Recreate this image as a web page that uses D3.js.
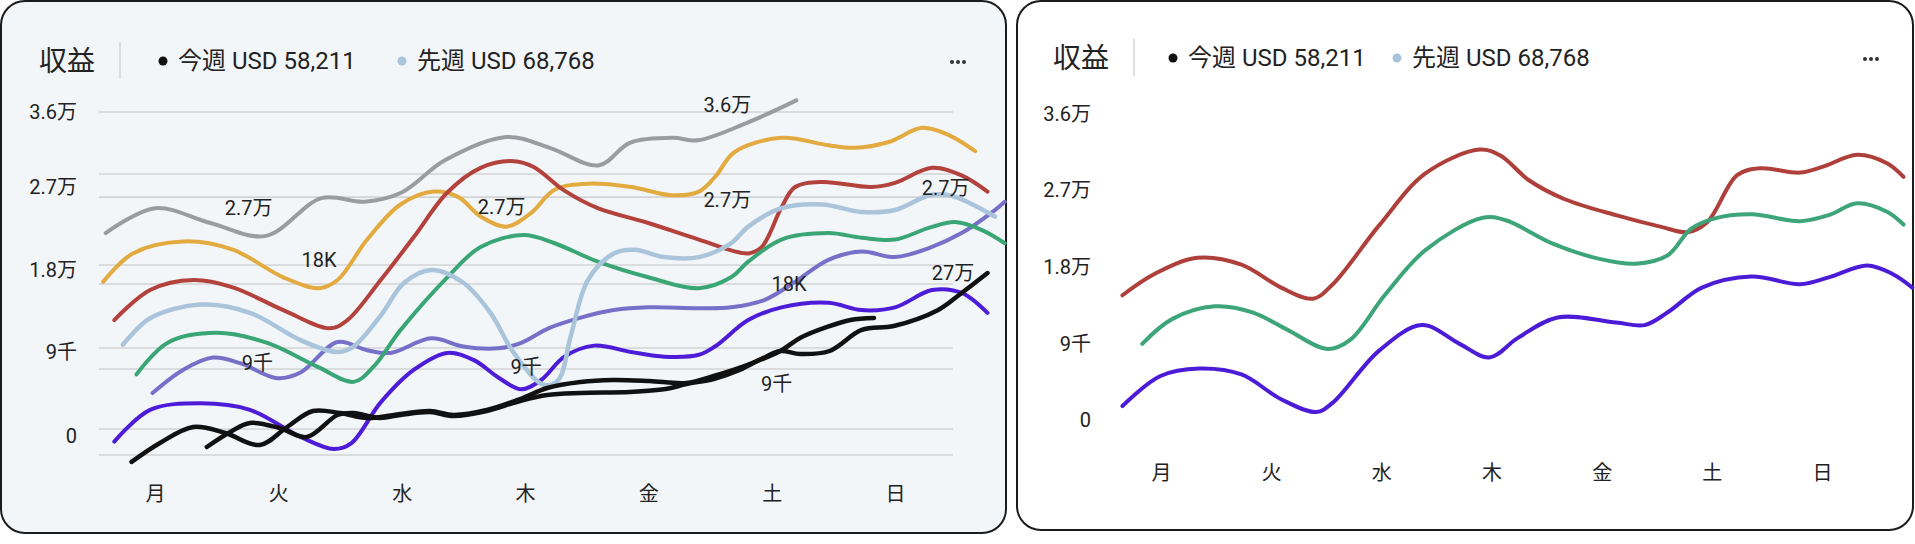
<!DOCTYPE html>
<html>
<head>
<meta charset="utf-8">
<script src="https://cdn.jsdelivr.net/npm/d3@7"></script>
<style>
  body { margin: 0; background: #fff; }
  text { font-family: Roboto, "Noto Sans CJK JP", sans-serif; fill: #222; }
</style>
</head>
<body>
<svg id="chart" width="1915" height="544"></svg>
<script>
//---------------------------------------------------------------------
// data
//---------------------------------------------------------------------
var days = ["月", "火", "水", "木", "金", "土", "日"];
var yTicks = [0, 9000, 18000, 27000, 36000];
var yTickLabels = ["0", "9千", "1.8万", "2.7万", "3.6万"];
var gridValues = [36000, 28560, 25900, 18540, 16470, 9440, 7180, 750, -2030];
var titleText = "収益";
var legendLabels = ["今週 USD 58,211", "先週 USD 68,768"];

// left panel series: [day index, value]
var grayLeft = [[-0.4,22000],[0,24700],[0.45,23100],[0.9,21700],[1.35,25800],[1.7,25400],[2,26400],[2.35,30200],[2.85,33000],[3.2,31700],[3.6,29600],[3.85,32300],[4.2,32900],[4.4,32600],[4.8,34700],[5.2,37400]];
var orangeLeft = [[-0.42,16700],[-0.18,19800],[0.23,21100],[0.63,20200],[1.04,17200],[1.33,16000],[1.48,16900],[1.72,21300],[1.99,25100],[2.26,26500],[2.46,25900],[2.64,23800],[2.85,22700],[3.05,24200],[3.24,26700],[3.51,27400],[3.86,27000],[4.19,26100],[4.41,26500],[4.54,28200],[4.7,31200],[5.08,32900],[5.46,32000],[5.67,31700],[5.95,32400],[6.22,34100],[6.44,33200],[6.65,31300]];
var redLeft = [[-0.33,12500],[-0.04,15800],[0.31,16900],[0.63,16100],[1.04,13600],[1.42,11600],[1.56,12500],[1.83,16900],[2.1,21600],[2.37,26400],[2.64,29300],[2.91,30100],[3.07,29400],[3.32,26600],[3.59,24700],[4,23100],[4.41,21300],[4.81,19800],[4.92,20500],[5.08,24800],[5.19,27000],[5.41,27600],[5.81,27000],[6,27500],[6.3,29300],[6.54,28400],[6.75,26500]];
var lightBlueLeft = [[-0.26,9800],[-0.04,12700],[0.37,14200],[0.77,13300],[1.18,10300],[1.48,9000],[1.61,9600],[1.83,13000],[2.02,16600],[2.24,18000],[2.5,16600],[2.72,13300],[2.91,8900],[3.15,5500],[3.27,6000],[3.37,10700],[3.51,16900],[3.72,19800],[3.89,20200],[4.13,19400],[4.41,19400],[4.67,20900],[4.81,22700],[5.08,24700],[5.41,25100],[5.73,24300],[6,24500],[6.28,26100],[6.44,26100],[6.6,25300],[6.81,23800]];
var greenLeft = [[-0.15,6600],[0.1,10000],[0.5,11100],[0.91,10000],[1.32,7400],[1.61,5800],[1.77,7400],[1.99,11400],[2.37,17200],[2.64,20500],[2.99,21800],[3.24,20900],[3.59,18900],[4,17200],[4.41,16000],[4.67,17200],[4.81,18900],[5.08,21300],[5.46,22000],[5.73,21500],[6,21300],[6.28,22600],[6.49,23200],[6.71,22300],[6.89,20900]];
var slateLeft = [[-0.02,4600],[0.23,7100],[0.47,8400],[0.69,7800],[0.99,6200],[1.18,6800],[1.48,10100],[1.72,9200],[1.91,8900],[2.24,10500],[2.5,9600],[2.78,9400],[2.97,10000],[3.19,11600],[3.46,12800],[3.72,13600],[4,13900],[4.41,13800],[4.67,13900],[4.94,14700],[5.19,16700],[5.46,19100],[5.73,20000],[6,19400],[6.28,20400],[6.54,22000],[6.81,24500],[6.89,25400]];
var purpleLeft = [[-0.33,-600],[-0.04,2800],[0.37,3500],[0.77,2800],[1.18,-100],[1.45,-1400],[1.59,-800],[1.83,3600],[2.1,7100],[2.37,8900],[2.59,8100],[2.78,6300],[2.97,5000],[3.13,6000],[3.32,8500],[3.56,9700],[3.86,9000],[4.13,8500],[4.41,8700],[4.54,9600],[4.81,12500],[5.08,13900],[5.46,14400],[5.73,13600],[6,13900],[6.3,15800],[6.54,15500],[6.75,13300]];
var blackALeft = [[-0.19,-2780],[0.04,-750],[0.31,960],[0.57,320],[0.85,-960],[1.07,960],[1.28,2680],[1.5,2460],[1.72,1930],[1.99,2360],[2.23,2680],[2.42,2250],[2.69,2780],[2.96,3960],[3.18,5140],[3.45,5780],[3.71,6000],[4.01,5890],[4.31,5680],[4.53,6430],[4.8,7600],[5.07,9110],[5.23,10540],[5.45,11750],[5.64,12510],[5.83,12730]];
var blackBLeft = [[0.42,-1180],[0.61,430],[0.77,1390],[1.01,860],[1.23,-110],[1.48,2250],[1.61,2460],[1.82,1930],[1.99,2250],[2.23,2570],[2.42,2140],[2.69,2680],[2.96,3750],[3.18,4390],[3.45,4610],[3.85,4710],[4.14,5030],[4.31,5570],[4.53,6100],[4.74,7070],[4.93,8350],[5.07,9110],[5.23,8790],[5.47,9110],[5.73,11420],[5.99,11850],[6.35,13610],[6.53,15370],[6.75,17670]];

// inline labels on the left panel
var leftNotes = [
  {day: 0.76, value: 24700, text: "2.7万"},
  {day: 1.33, value: 19100, text: "18K"},
  {day: 0.83, value: 7800,  text: "9千"},
  {day: 2.81, value: 24800, text: "2.7万"},
  {day: 3.01, value: 7400,  text: "9千"},
  {day: 4.64, value: 36800, text: "3.6万"},
  {day: 4.64, value: 25600, text: "2.7万"},
  {day: 5.14, value: 16500, text: "18K"},
  {day: 5.04, value: 5600,  text: "9千"},
  {day: 6.41, value: 26900, text: "2.7万"},
  {day: 6.47, value: 17700, text: "27万"}
];

// right panel series
var redRight = [[-0.35,14700],[-0.06,17200],[0.33,19100],[0.73,18300],[1.09,15600],[1.38,14300],[1.56,16000],[1.98,22900],[2.4,29000],[2.89,31800],[3.08,31100],[3.34,28200],[3.66,26000],[4.13,24100],[4.55,22700],[4.78,22100],[4.96,23300],[5.23,28800],[5.44,29600],[5.8,29100],[6.01,29800],[6.32,31200],[6.59,30200],[6.74,28600]];
var greenRight = [[-0.17,9000],[0.1,11900],[0.49,13400],[0.83,12700],[1.14,10700],[1.51,8400],[1.72,9500],[2.03,14700],[2.4,20000],[2.92,23800],[3.13,23500],[3.55,20800],[3.97,19000],[4.31,18400],[4.6,19400],[4.81,22500],[5.02,23700],[5.36,24200],[5.8,23400],[6.06,24100],[6.32,25500],[6.59,24500],[6.74,23000]];
var purpleRight = [[-0.35,1700],[-0.01,5200],[0.35,6100],[0.73,5400],[1.09,2500],[1.41,1000],[1.56,2100],[1.98,8200],[2.37,11200],[2.71,9000],[2.98,7400],[3.24,9700],[3.6,12100],[4.13,11500],[4.39,11200],[4.6,12700],[4.91,15600],[5.36,16900],[5.8,16000],[6.06,16800],[6.41,18200],[6.64,17200],[6.82,15600]];

//---------------------------------------------------------------------
// drawing
//---------------------------------------------------------------------
var svg = d3.select("#chart");
var FONT = 'Roboto, "Noto Sans CJK JP", sans-serif';

// panel frames
svg.append("rect").attr("x", 1).attr("y", 1).attr("width", 1005).attr("height", 532)
  .attr("rx", 24).attr("fill", "#f3f6f9").attr("stroke", "#1b1b1b").attr("stroke-width", 2);
svg.append("rect").attr("x", 1017).attr("y", 1).attr("width", 896).attr("height", 529)
  .attr("rx", 24).attr("fill", "#fff").attr("stroke", "#1b1b1b").attr("stroke-width", 2);

function header(h) {
  var g = svg.append("g");
  g.append("text").attr("x", h.title).attr("y", h.y).attr("dy", "0.35em")
    .attr("font-size", 28).text(titleText);
  g.append("line").attr("x1", h.sep).attr("x2", h.sep).attr("y1", h.y - 19).attr("y2", h.y + 18)
    .attr("stroke", "#d3d5d8").attr("stroke-width", 1.5);
  var bulletColors = ["#111", "#a9c3da"];
  legendLabels.forEach(function (lab, i) {
    g.append("circle").attr("cx", h.legend[i]).attr("cy", h.y).attr("r", 4.5).attr("fill", bulletColors[i]);
    g.append("text").attr("x", h.legend[i] + 15).attr("y", h.y).attr("dy", "0.35em")
      .attr("font-size", 24).text(lab);
  });
  [-6, 0, 6].forEach(function (dx) {
    g.append("circle").attr("cx", h.dots + dx).attr("cy", h.y + 1).attr("r", 2).attr("fill", "#333");
  });
}
header({title: 39, y: 61, sep: 120, legend: [163, 402], dots: 958});
header({title: 1053, y: 58, sep: 1134, legend: [1173, 1397], dots: 1871});

function axes(x, y, yAxisX, xAxisY) {
  var ya = svg.append("g").attr("transform", "translate(" + yAxisX + ",0)")
    .call(d3.axisLeft(y).tickValues(yTicks).tickFormat(function (d, i) { return yTickLabels[i]; })
      .tickSize(0).tickPadding(0));
  ya.select(".domain").remove();
  ya.selectAll("text").attr("font-size", 20).attr("font-family", FONT).attr("fill", "#222");

  var xa = svg.append("g").attr("transform", "translate(0," + xAxisY + ")")
    .call(d3.axisBottom(x).tickValues(d3.range(days.length)).tickFormat(function (d) { return days[d]; })
      .tickSize(0).tickPadding(0));
  xa.select(".domain").remove();
  xa.selectAll("text").attr("y", 0).attr("dy", "0.35em")
    .attr("font-size", 20).attr("font-family", FONT).attr("fill", "#222");
}

function drawLines(x, y, series) {
  var line = d3.line()
    .x(function (d) { return x(d[0]); })
    .y(function (d) { return y(d[1]); })
    .curve(d3.curveCatmullRom.alpha(0.5));
  svg.append("g").selectAll("path")
    .data(series)
    .enter()
    .append("path")
    .attr("d", function (s) { return line(s.data); })
    .attr("fill", "none")
    .attr("stroke", function (s) { return s.color; })
    .attr("stroke-width", function (s) { return s.width; })
    .attr("stroke-linecap", "round")
    .attr("stroke-linejoin", "round");
}

// ---- left panel
var xL = d3.scaleLinear().domain([0, 6]).range([155, 895]);
var yL = d3.scaleLinear().domain(yTicks).range([436, 352, 270, 187, 112]);

svg.append("g").selectAll("line")
  .data(gridValues)
  .enter()
  .append("line")
  .attr("x1", 99).attr("x2", 953)
  .attr("y1", function (d) { return yL(d); })
  .attr("y2", function (d) { return yL(d); })
  .attr("stroke", "#d2d3d5").attr("stroke-width", 1.6);

axes(xL, yL, 77, 494);

drawLines(xL, yL, [
  {data: grayLeft,      color: "#9b9ca1", width: 4},
  {data: orangeLeft,    color: "#e2aa3f", width: 4},
  {data: redLeft,       color: "#b3413c", width: 4},
  {data: slateLeft,     color: "#7770c8", width: 4},
  {data: greenLeft,     color: "#3aa676", width: 4},
  {data: purpleLeft,    color: "#4c1cd8", width: 4},
  {data: lightBlueLeft, color: "#a9c4db", width: 4.5},
  {data: blackALeft,    color: "#111", width: 4.5},
  {data: blackBLeft,    color: "#111", width: 4.5}
]);

svg.append("g").selectAll("text")
  .data(leftNotes)
  .enter()
  .append("text")
  .attr("x", function (d) { return xL(d.day); })
  .attr("y", function (d) { return yL(d.value); })
  .attr("dy", "0.35em")
  .attr("text-anchor", "middle")
  .attr("font-size", 20)
  .attr("fill", "#111")
  .text(function (d) { return d.text; });

// ---- right panel
var xR = d3.scaleLinear().domain([0, 6]).range([1161, 1822]);
var yR = d3.scaleLinear().domain([0, 36000]).range([420.5, 113.8]);

axes(xR, yR, 1091, 473);

drawLines(xR, yR, [
  {data: redRight,    color: "#ae3f3a", width: 4},
  {data: greenRight,  color: "#3ea479", width: 4},
  {data: purpleRight, color: "#4c1bd8", width: 4}
]);
</script>
</body>
</html>
